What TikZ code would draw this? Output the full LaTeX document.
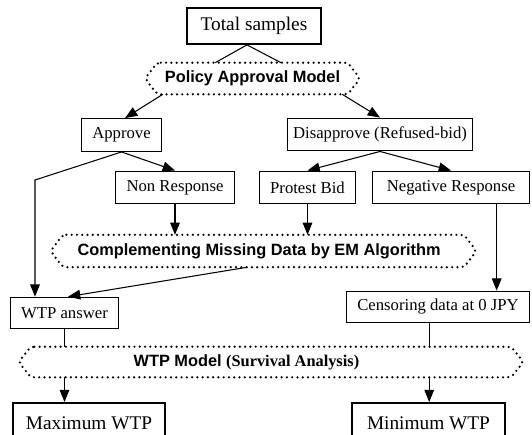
\documentclass[tikz,border=0pt]{standalone}
\usepackage{fontspec}
\setmainfont{Liberation Serif}
\setsansfont{Liberation Sans}
\usetikzlibrary{arrows.meta}

\tikzset{
  box/.style={draw, line width=0.6pt, inner sep=0pt, minimum height=18.7pt,
    font=\fontsize{9.5}{11}\selectfont},
  bigbox/.style={box, line width=1.1pt, font=\fontsize{11}{13}\selectfont},
  dotbox/.style={inner sep=0pt, font=\sffamily\bfseries\fontsize{9.3}{11}\selectfont},
  dotline/.style={line width=1.4pt, dash pattern=on 0pt off 3pt, line cap=round,
    rounded corners=2pt},
  arr/.style={line width=0.6pt, -{Triangle[length=7pt,width=5.5pt]}},
  link/.style={line width=0.6pt},
}

% dotted frame with pointed ends round a node
\newcommand\dotframe[1]{%
  \draw[dotline] ([xshift=7pt]#1.north west) -- ([xshift=-7pt]#1.north east) -- (#1.east)
    -- ([xshift=-7pt]#1.south east) -- ([xshift=7pt]#1.south west) -- (#1.west) -- cycle;}

\begin{document}
\begin{tikzpicture}[x=0.02cm, y=-0.02cm]
    \useasboundingbox (0,0) rectangle (532,434);

    \node[bigbox, minimum width=76pt, minimum height=20.4pt] (total) at (254,26) {Total samples};
    \node[dotbox, minimum width=122pt, minimum height=17.6pt] (pam) at (252.5,78.5) {Policy Approval Model};
    \node[box, minimum width=46pt] (approve) at (121.5,135) {Approve};
    \node[box, minimum width=105.5pt] (disapp) at (380,134.5) {Disapprove (Refused-bid)};
    \node[box, minimum width=68pt] (nonresp) at (175,187.5) {Non Response};
    \node[box, minimum width=55pt] (protest) at (307.5,187.5) {Protest Bid};
    \node[box, minimum width=89pt] (negresp) at (451,187.5) {Negative Response};
    \node[dotbox, minimum width=242pt, minimum height=18pt] (emalg) at (263.5,251)
        {Complementing Missing Data by EM Algorithm\hspace*{5pt}};
    \node[box, minimum width=62pt, minimum height=18pt] (wtpans) at (64.5,313) {WTP answer};
    \node[box, minimum width=104pt, minimum height=18pt] (censor) at (438,307) {Censoring data at 0 JPY};
    \node[dotbox, minimum width=287pt, minimum height=17pt] (wtpmodel) at (271,362)
        {WTP Model {\rmfamily(Survival Analysis)}\hspace*{28pt}};
    \node[bigbox, minimum width=86pt, minimum height=22.7pt] (maxwtp) at (89,423) {Maximum WTP};
    \node[bigbox, minimum width=87pt, minimum height=22.7pt] (minwtp) at (428.5,423) {Minimum WTP};

    \dotframe{pam}
    \dotframe{emalg}
    \dotframe{wtpmodel}

    % Now the connectors:
    \draw[link] ([xshift=-4pt]total.south) -- (pam.157);
    \draw[link] ([xshift=-4pt]total.south) -- (pam.29);
    \draw[arr] (pam.190) -- ([xshift=2pt]approve.north);
    \draw[arr] (pam.350) -- (disapp.north);
    \draw[arr] (approve.south) -- (nonresp.north);
    \coordinate (bend) at (35,180);
    \draw[arr] (approve.south) -- (bend) -- (bend |- wtpans.north);
    \draw[arr] (disapp.south) -- (protest.north);
    \draw[arr] (disapp.south) -- (negresp.north);
    \draw[arr] (nonresp.south) -- (nonresp.south |- emalg.north);
    \draw[arr] (protest.south) -- (protest.south |- emalg.north);
    \draw[arr] ([xshift=26pt]negresp.south) -- ([xshift=26pt]negresp.south |- censor.north);
    \draw[arr] ([xshift=-9pt]emalg.south) -- ([xshift=2pt]wtpans.north);
    \draw[link] (wtpans.south) -- (wtpans.south |- wtpmodel.north);
    \draw[arr] (wtpans.south |- wtpmodel.south) -- (wtpans.south |- maxwtp.north);
    \coordinate (cfoot) at ([xshift=-5pt]censor.south);
    \draw[link] (cfoot) -- (cfoot |- wtpmodel.north);
    \draw[arr] (cfoot |- wtpmodel.south) -- (cfoot |- minwtp.north);
\end{tikzpicture}
\end{document}
